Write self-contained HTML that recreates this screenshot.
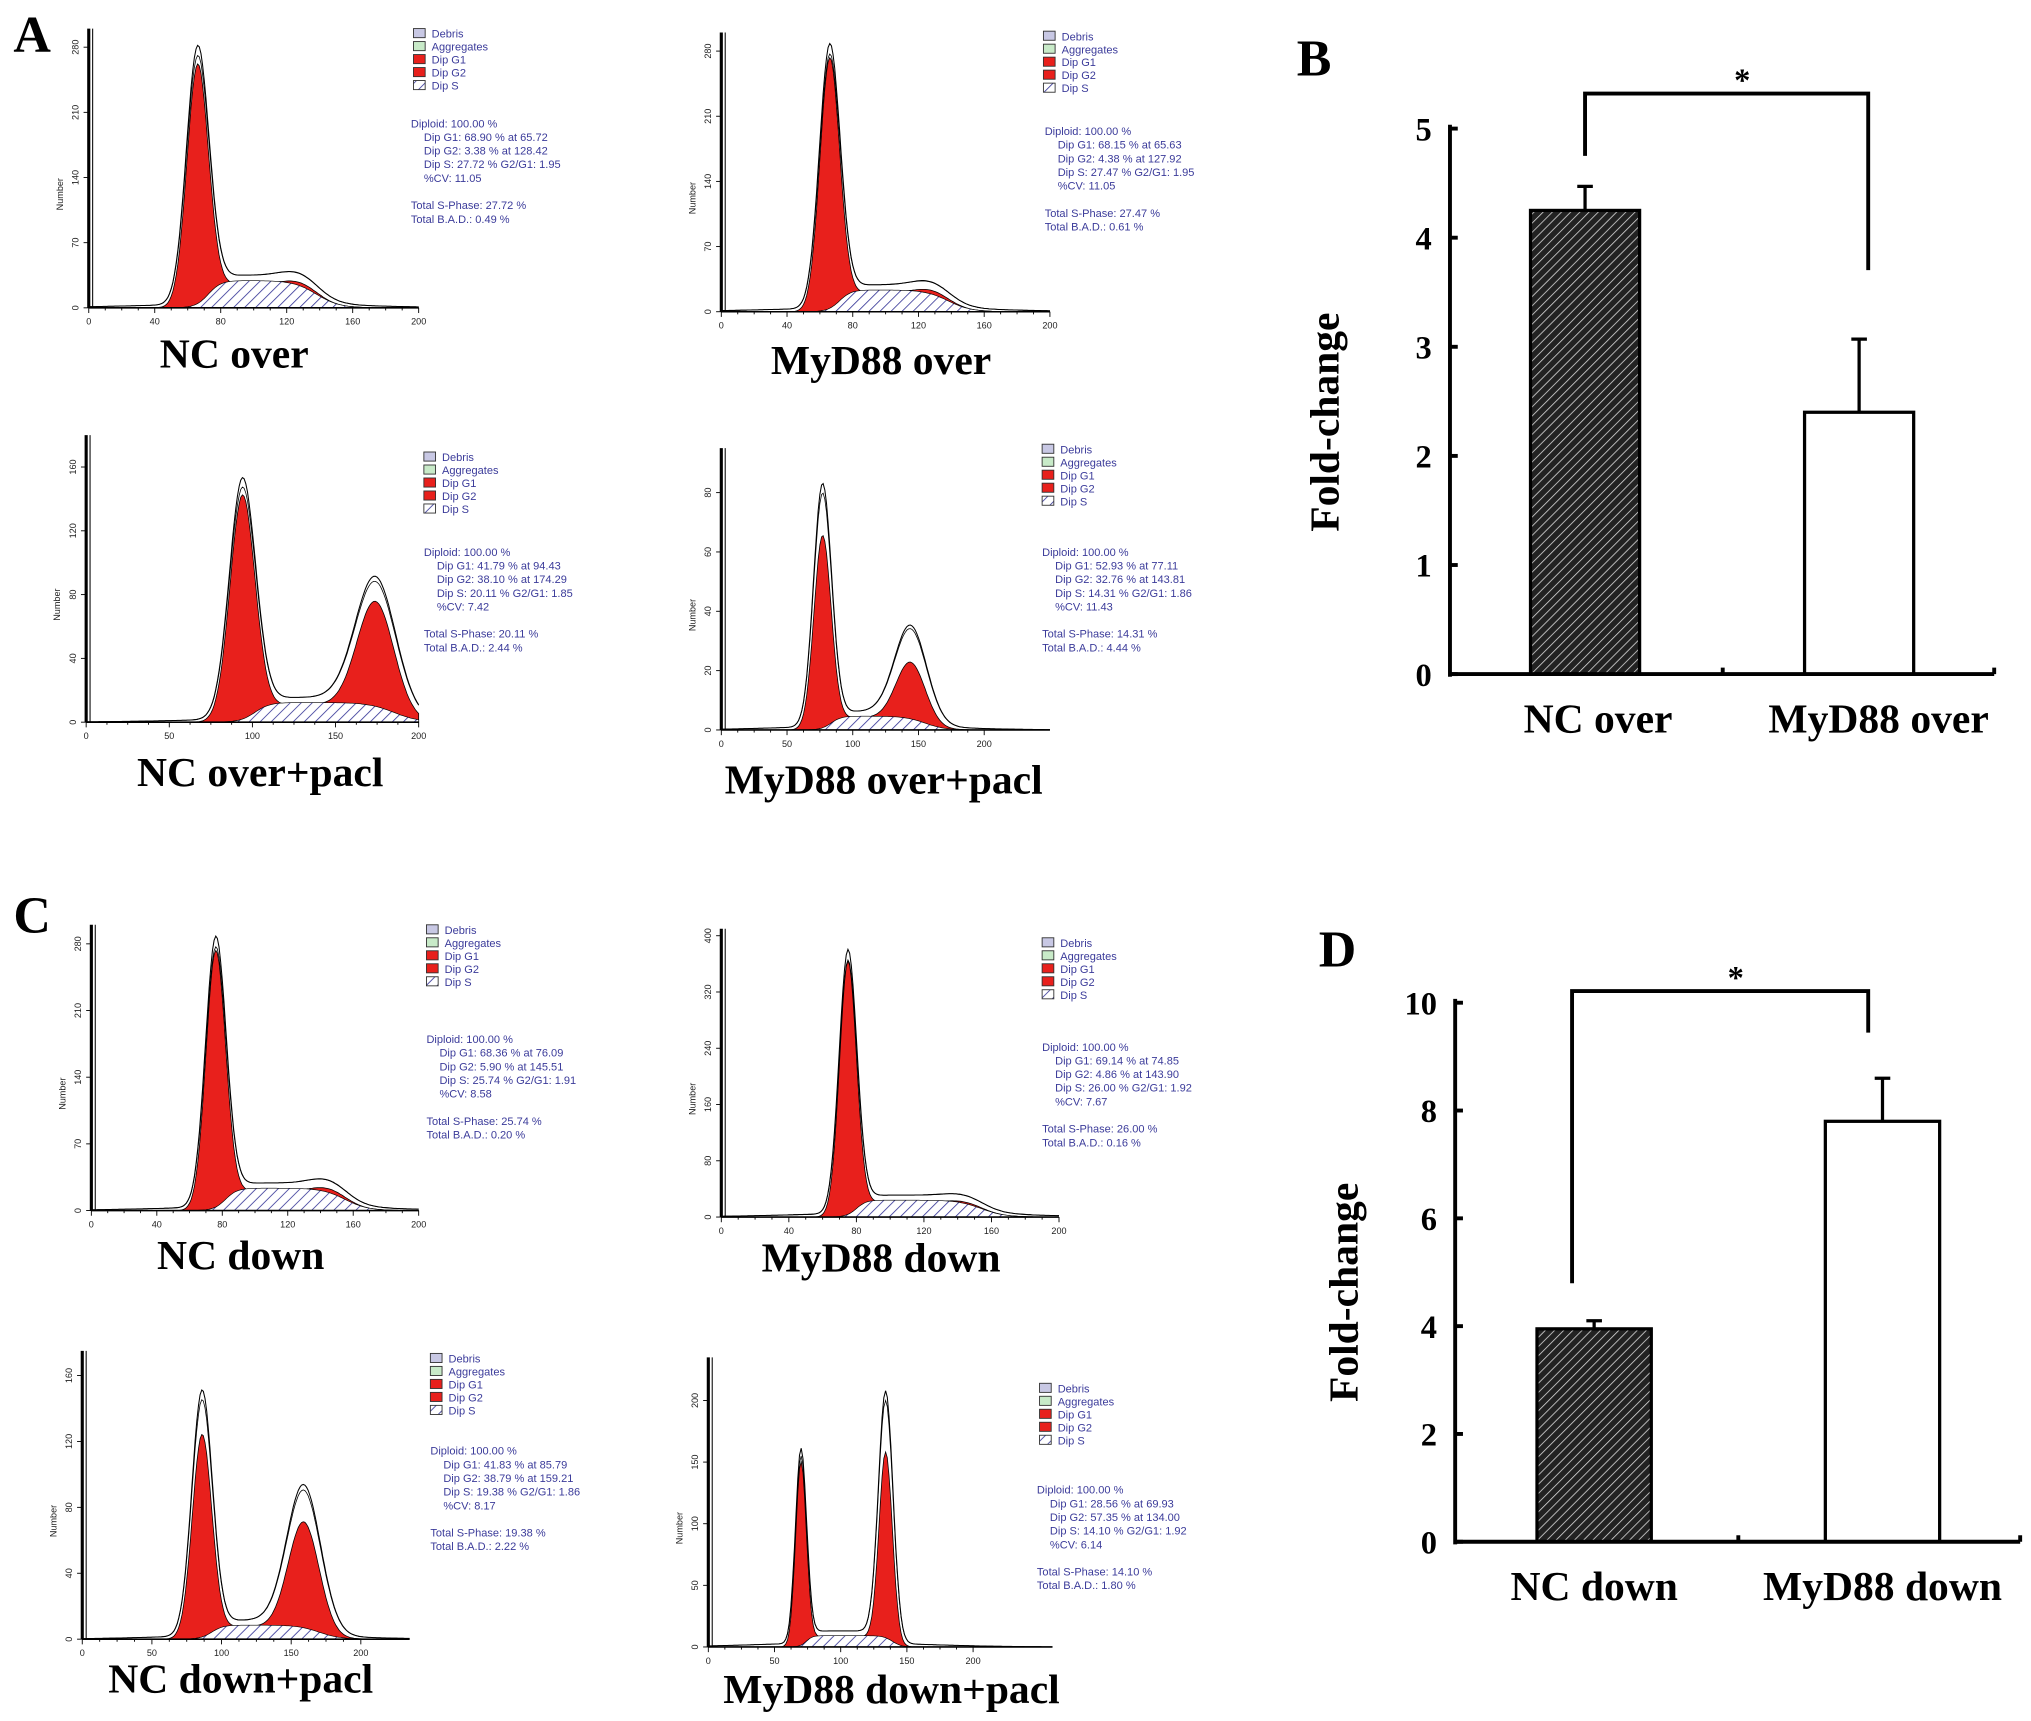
<!DOCTYPE html>
<html><head><meta charset="utf-8"><style>
html,body{margin:0;padding:0;background:#fff;}
svg{display:block;}
.sm{font-family:"Liberation Sans",sans-serif;font-size:8.5px;fill:#3b3b9a;}
.tk{font-family:"Liberation Sans",sans-serif;font-size:7px;fill:#222;}
.lab{font-family:"Liberation Serif",serif;font-weight:bold;font-size:32px;fill:#000;}
.btk{font-family:"Liberation Serif",serif;font-weight:bold;font-size:25px;fill:#000;}
.let{font-family:"Liberation Serif",serif;font-weight:bold;font-size:40px;fill:#000;}
</style></head><body>
<svg id="fig" width="2031" height="1721" viewBox="0 0 1563 1325" xmlns="http://www.w3.org/2000/svg">
<defs>
<pattern id="hatch" patternUnits="userSpaceOnUse" width="6" height="6" patternTransform="rotate(45)">
<rect width="6" height="6" fill="#fff"/><line x1="0" y1="0" x2="0" y2="6" stroke="#3b3b9a" stroke-width="1.3"/></pattern>
<pattern id="bhatch" patternUnits="userSpaceOnUse" width="5" height="5" patternTransform="rotate(45)">
<rect width="5" height="5" fill="#222"/><line x1="0" y1="0" x2="0" y2="5" stroke="#ddd" stroke-width="1.2"/></pattern>
</defs>
<g id="root"></g>
</svg>
<script>
// ---- histogram panel data ----
const panelNames = ["nc-over","myd88-over","nc-over-pacl","myd88-over-pacl","nc-down","myd88-down","nc-down-pacl","myd88-down-pacl"];
const panelLabels = ["NC over","MyD88 over","NC over+pacl","MyD88 over+pacl","NC down","MyD88 down","NC down+pacl","MyD88 down+pacl"];
const g1Mean = [66,66,94,77,76,75,86,70];
const g1Sd = [6.5,6,7.5,6.5,6,5,7,4];
const g1Peak = [0.88,0.92,0.80,0.70,0.92,0.90,0.72,0.65];
const g2Mean = [128,128,174,144,145,144,159,134];
const g2Sd = [10,10,11,11,10,10,11,5];
const g2Peak = [0.02,0.02,0.38,0.21,0.02,0.01,0.38,0.66];
const sLevel = [0.10,0.08,0.07,0.05,0.08,0.06,0.05,0.04];
const outG1 = [1.06,1.04,1.06,1.25,1.04,1.03,1.2,1.05];
const outG2 = [1.4,1.4,1.18,1.55,1.4,1.4,1.3,1.3];
const xMax = [200,200,200,250,200,200,235,260];
const yTicks = [[0,70,140,210,280],[0,70,140,210,280],[0,40,80,120,160],[0,20,40,60,80],[0,70,140,210,280],[0,80,160,240,320,400],[0,40,80,120,160],[0,50,100,150,200]];
const yMaxV = [300,300,180,95,300,410,175,235];
const xTickStep = [40,40,50,50,40,40,50,50];
const xTickMax = [200,200,200,200,200,200,200,200];
const statG1 = ["68.90 % at 65.72","68.15 % at 65.63","41.79 % at 94.43","52.93 % at 77.11","68.36 % at 76.09","69.14 % at 74.85","41.83 % at 85.79","28.56 % at 69.93"];
const statG2 = ["3.38 % at 128.42","4.38 % at 127.92","38.10 % at 174.29","32.76 % at 143.81","5.90 % at 145.51","4.86 % at 143.90","38.79 % at 159.21","57.35 % at 134.00"];
const statS = ["27.72 %","27.47 %","20.11 %","14.31 %","25.74 %","26.00 %","19.38 %","14.10 %"];
const statRatio = ["1.95","1.95","1.85","1.86","1.91","1.92","1.86","1.92"];
const statCV = ["11.05","11.05","7.42","11.43","8.58","7.67","8.17","6.14"];
const statBAD = ["0.49 %","0.61 %","2.44 %","4.44 %","0.20 %","0.16 %","2.22 %","1.80 %"];
// layout (positions)
const L = [
 {ox:68,oy:237,w:254,top:22,lx:318,ly:22,sx:316,sy:98,tx:180,ty:283},
 {ox:555,oy:240,w:253,top:25,lx:803,ly:24,sx:804,sy:104,tx:678,ty:288},
 {ox:66,oy:556,w:256,top:335,lx:326,ly:348,sx:326,sy:428,tx:200,ty:605},
 {ox:555,oy:562,w:253,top:345,lx:802,ly:342,sx:802,sy:428,tx:680,ty:611},
 {ox:70,oy:932,w:252,top:712,lx:328,ly:712,sx:328,sy:803,tx:185,ty:977},
 {ox:555,oy:937,w:260,top:715,lx:802,ly:722,sx:802,sy:809,tx:678,ty:979},
 {ox:63,oy:1262,w:252,top:1040,lx:331,ly:1042,sx:331,sy:1120,tx:185,ty:1303},
 {ox:545,oy:1268,w:265,top:1045,lx:800,ly:1065,sx:798,sy:1150,tx:686,ty:1311}
];
const NS="http://www.w3.org/2000/svg";
const root=document.getElementById('root');
function mk(tag,attrs,parent,txt){const e=document.createElementNS(NS,tag);for(const k in attrs)e.setAttribute(k,attrs[k]);if(txt!==undefined)e.textContent=txt;(parent||root).appendChild(e);return e;}
function gauss(x,m,s){return Math.exp(-(x-m)*(x-m)/(2*s*s));}
function sFun(i,x){const a=g1Mean[i],b=g2Mean[i];
 const up=1/(1+Math.exp(-(x-a-g1Sd[i])/(g1Sd[i]*0.6)));
 const dn=1/(1+Math.exp((x-b-g2Sd[i])/(g2Sd[i]*0.7)));
 return sLevel[i]*up*dn;}
function hist(i){
 const p=L[i];const g=mk('g',{});
 
 
 const h=p.oy-p.top-5;
 const X=v=>p.ox+v/xMax[i]*p.w;
 const Y=f=>p.oy-f*h;
 const N=200;const xs=[];for(let k=0;k<=N;k++)xs.push(k/N*xMax[i]);
 const path=(fn)=>xs.map((x,k)=>(k?'L':'M')+X(x).toFixed(1)+','+Y(fn(x)).toFixed(1)).join('');
 const base=' L'+X(xMax[i])+','+p.oy+' L'+X(0)+','+p.oy+'Z';
 let e=mk('path',{d:path(x=>g1Peak[i]*gauss(x,g1Mean[i],g1Sd[i])+sFun(i,x)*0.9)+base,fill:'#e8201c',stroke:'#000','stroke-width':0.6},g);
 
 e=mk('path',{d:path(x=>g2Peak[i]*gauss(x,g2Mean[i],g2Sd[i])+sFun(i,x)*0.9)+base,fill:'#e8201c',stroke:'#000','stroke-width':0.6},g);
 
 e=mk('path',{d:path(x=>sFun(i,x))+base,fill:'url(#hatch)',stroke:'#000','stroke-width':0.5},g);
 
 const tot=(x,m)=>g1Peak[i]*outG1[i]*m*gauss(x,g1Mean[i],g1Sd[i]*1.05)+g2Peak[i]*outG2[i]*m*gauss(x,g2Mean[i],g2Sd[i]*1.1)+sFun(i,x)*1.05+0.015*gauss(x,(g1Mean[i]+g2Mean[i])/2,60);
 e=mk('path',{d:path(x=>tot(x,1)),fill:'none',stroke:'#000','stroke-width':0.8},g);
 
 e=mk('path',{d:path(x=>tot(x,0.96)),fill:'none',stroke:'#000','stroke-width':0.6},g);
 
 mk('line',{x1:p.ox,y1:p.top,x2:p.ox,y2:p.oy,stroke:'#000','stroke-width':2.4},g);
 mk('line',{x1:p.ox+3,y1:p.top,x2:p.ox+3,y2:p.oy,stroke:'#000','stroke-width':0.8},g);
 mk('line',{x1:p.ox,y1:p.oy,x2:X(xMax[i]),y2:p.oy,stroke:'#000','stroke-width':1.2},g);
 for(let v=0;v<=xTickMax[i];v+=xTickStep[i]/4){const mj=(v%xTickStep[i]===0);
  mk('line',{x1:X(v),y1:p.oy,x2:X(v),y2:p.oy+(mj?4:2),stroke:'#000','stroke-width':0.7},g);
  if(mj){const t=mk('text',{x:X(v),y:p.oy+13,'text-anchor':'middle',class:'tk'},g,String(v));}}
 yTicks[i].forEach(v=>{const yy=p.oy-v/yMaxV[i]*(p.oy-p.top);
  mk('line',{x1:p.ox-4,y1:yy,x2:p.ox,y2:yy,stroke:'#000','stroke-width':0.7},g);
  const t=mk('text',{x:p.ox-8,y:yy,'text-anchor':'middle',class:'tk',transform:`rotate(-90 ${p.ox-8} ${yy})`},g,String(v));
  });
 let t=mk('text',{x:p.ox-20,y:(p.oy+p.top)/2+20,'text-anchor':'middle',class:'tk',transform:`rotate(-90 ${p.ox-20} ${(p.oy+p.top)/2+20})`},g,'Number');
 
 const lg=mk('g',{},g);
 const items=[['Debris','#c8c8e4'],['Aggregates','#c8eac8'],['Dip G1','#e8201c'],['Dip G2','#e8201c'],['Dip S','url(#hatch)']];
 items.forEach((it,k)=>{const yy=p.ly+k*10;
  mk('rect',{x:p.lx,y:yy,width:9,height:7,fill:it[1],stroke:'#333','stroke-width':0.7},lg);
  mk('text',{x:p.lx+14,y:yy+7,class:'sm'},lg,it[0]);});
 const st=mk('g',{},g);
 const lines=[['Diploid: 100.00 %',0],['Dip G1: '+statG1[i],10],['Dip G2: '+statG2[i],10],['Dip S: '+statS[i]+'   G2/G1: '+statRatio[i],10],['%CV: '+statCV[i],10],['',0],['Total S-Phase: '+statS[i],0],['Total B.A.D.: '+statBAD[i],0]];
 lines.forEach((ln,k)=>{mk('text',{x:p.sx+ln[1],y:p.sy+k*10.5,class:'sm'},st,ln[0]);});
 t=mk('text',{x:p.tx,y:p.ty,'text-anchor':'middle',class:'lab'},null,panelLabels[i]);
 
}
for(let i=0;i<8;i++)hist(i);

// ---- bar charts ----
const barCatsB=["NC over","MyD88 over"];
const barValsB=[4.25,2.40];
const barErrB=[0.22,0.67];
const barTicksB=[0,1,2,3,4,5];
const barCatsD=["NC down","MyD88 down"];
const barValsD=[3.95,7.80];
const barErrD=[0.15,0.80];
const barTicksD=[0,2,4,6,8,10];

function barChart(cfg,cats,vals,errs,ticks,name){
 const g=mk('g',{});
 const Y=v=>cfg.y0-(v-ticks[0])/(ticks[ticks.length-1]-ticks[0])*(cfg.y0-cfg.yTop);
 const fills=['url(#bhatch)','#fff'];
 cats.forEach((c,k)=>{const bx=cfg.bx[k];
  const r=mk('rect',{x:bx,y:Y(vals[k]),width:cfg.bw,height:cfg.y0-Y(vals[k]),fill:fills[k],stroke:'#000','stroke-width':2.5},g);
  
  const cx=bx+cfg.bw/2;
  const eb=mk('path',{d:`M${cx},${Y(vals[k])} V${Y(vals[k]+errs[k])} M${cx-6},${Y(vals[k]+errs[k])} H${cx+6}`,stroke:'#000','stroke-width':2.5,fill:'none'},g);
  
  const t=mk('text',{x:cx+cfg.labDx[k],y:cfg.y0+45,'text-anchor':'middle',class:'lab'},g,c);
  });
 mk('line',{x1:cfg.ax,y1:cfg.yTop-3,x2:cfg.ax,y2:cfg.y0+2,stroke:'#000','stroke-width':3},g);
 mk('line',{x1:cfg.ax,y1:cfg.y0,x2:cfg.xEnd,y2:cfg.y0,stroke:'#000','stroke-width':3},g);
 mk('line',{x1:cfg.xEnd,y1:cfg.y0-5,x2:cfg.xEnd,y2:cfg.y0,stroke:'#000','stroke-width':3},g);
 mk('line',{x1:cfg.mid,y1:cfg.y0-5,x2:cfg.mid,y2:cfg.y0,stroke:'#000','stroke-width':3},g);
 ticks.forEach(v=>{mk('line',{x1:cfg.ax,y1:Y(v),x2:cfg.ax+6,y2:Y(v),stroke:'#000','stroke-width':3},g);
  const t=mk('text',{x:cfg.ax-14,y:Y(v)+9,'text-anchor':'end',class:'btk'},g,String(v));
  });
 const yt=mk('text',{x:cfg.ytx,y:cfg.yty,'text-anchor':'middle',class:'lab',transform:`rotate(-90 ${cfg.ytx} ${cfg.yty})`},g,'Fold-change');
 
 const c0=cfg.bx[0]+cfg.bw/2+cfg.brDx[0],c1=cfg.bx[1]+cfg.bw/2+cfg.brDx[1];
 const br=mk('path',{d:`M${c0},${cfg.brL} V${cfg.brTop} H${c1} V${cfg.brR}`,fill:'none',stroke:'#000','stroke-width':3},g);
 
 const s=mk('text',{x:(c0+c1)/2+12,y:cfg.brTop-2,'text-anchor':'middle',class:'btk'},g,'*');
 
}
barChart({y0:519,yTop:99,ax:1116,xEnd:1535,mid:1326,bx:[1178,1389],bw:84,labDx:[10,15],ytx:1030,yty:325,brDx:[0,7],brTop:72,brL:120,brR:208},barCatsB,barValsB,barErrB,barTicksB,'bar-chart-b');
barChart({y0:1187,yTop:772,ax:1120,xEnd:1555,mid:1338,bx:[1183,1405],bw:88,labDx:[0,0],ytx:1045,yty:995,brDx:[-17,-11],brTop:763,brL:988,brR:795},barCatsD,barValsD,barErrD,barTicksD,'bar-chart-d');

[['A',10,40],['B',998,58],['C',10,718],['D',1015,744]].forEach(a=>{
 const t=mk('text',{x:a[1],y:a[2],class:'let'},null,a[0]);
 });
</script>
</body></html>
